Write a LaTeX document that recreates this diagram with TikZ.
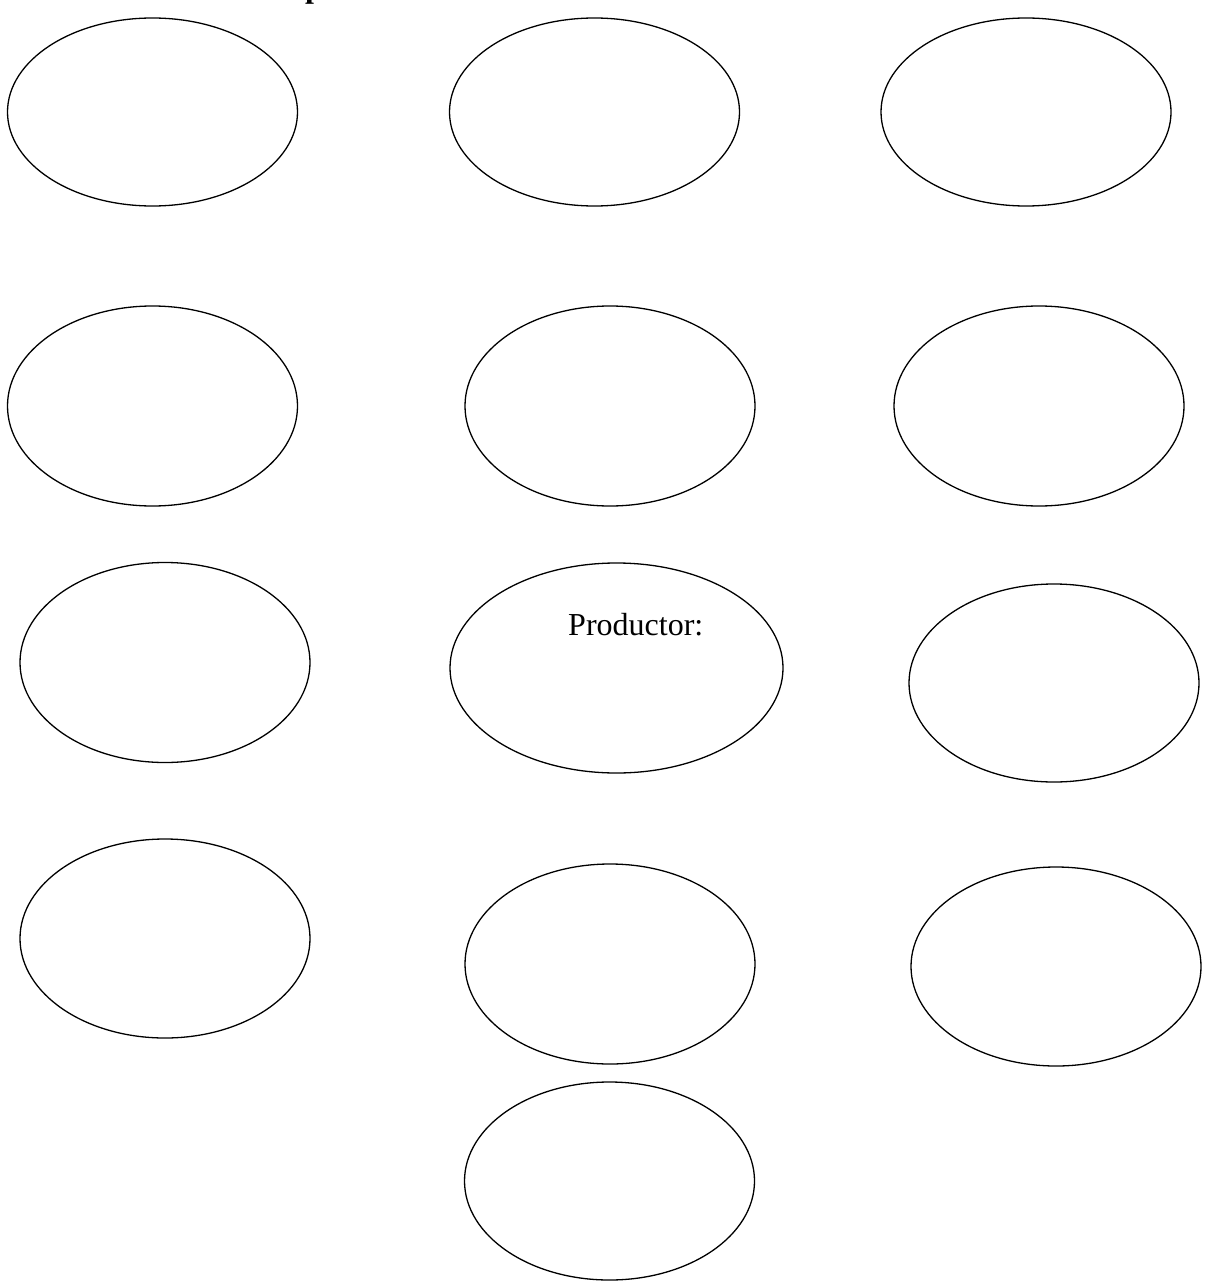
\documentclass[tikz,border=0pt]{standalone}
\usepackage{fontspec}
\setmainfont{Liberation Serif}
\usetikzlibrary{shapes.geometric}
\begin{document}
\begin{tikzpicture}[x=1pt,y=-1pt,
  oval/.style={draw=black, line width=1.3pt, ellipse, inner sep=0pt,
    minimum width=290pt, minimum height=200pt},
  lbl/.style={font=\fontsize{32}{38}\selectfont, inner sep=0pt, anchor=base west}]
\useasboundingbox[fill=white] (0,0) rectangle (1205,1281);
\clip (0,0) rectangle (1205,1281);
% cut-off title (only the descender shows)
\node[lbl, font=\fontsize{32}{38}\selectfont\bfseries] (title) at (305,-2) {p};
% row 1
\node[oval, minimum height=188pt] (e1) at (152.5,112) {};
\node[oval, minimum height=188pt] (e2) at (594.5,112) {};
\node[oval, minimum height=188pt] (e3) at (1026,112) {};
% row 2
\node[oval] (e4) at (152.5,406) {};
\node[oval] (e5) at (610,406) {};
\node[oval] (e6) at (1039,406) {};
% row 3
\node[oval] (e7) at (165,662.5) {};
\node[oval, minimum width=333pt, minimum height=210pt] (e8) at (616.5,668) {};
\node[oval, minimum height=198pt] (e9) at (1054,683) {};
\node[lbl] (prod) at (568,635) {Productor:};
% row 4
\node[oval, minimum height=199pt] (e10) at (165,938.5) {};
\node[oval] (e11) at (610,964) {};
\node[oval, minimum height=199pt] (e12) at (1056,966.5) {};
% row 5
\node[oval, minimum height=198pt] (e13) at (609.5,1181) {};
\end{tikzpicture}
\end{document}
